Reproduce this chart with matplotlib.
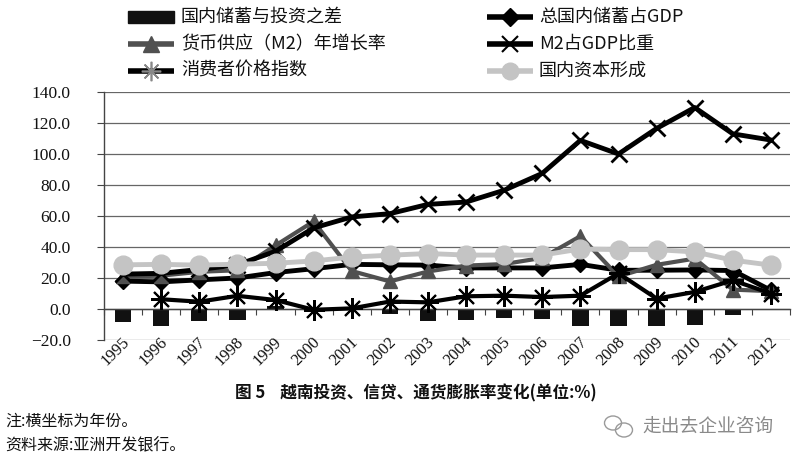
import matplotlib
matplotlib.use('Agg')
import matplotlib.pyplot as plt
import numpy as np
from matplotlib.lines import Line2D
from matplotlib.patches import Rectangle, Ellipse
import matplotlib.transforms as mtransforms
from matplotlib.ticker import FuncFormatter

# ---------------- data ----------------
years = [str(y) for y in range(1995, 2013)]
gap = [-8.6, -10.8, -7.5, -7.3, 2.0, 0.0, 0.0, -3.5, -7.7, -6.9, -5.6, -6.2,
       -11.2, -11.2, -11.2, -10.1, -3.7, 0.0]
savings_gdp = [18.0, 17.5, 18.8, 20.0, 23.5, 26.0, 28.8, 28.5, 28.3, 26.5,
               26.5, 26.5, 28.8, 25.0, 25.0, 25.2, 24.8, 12.0]
m2_growth = [21.0, 21.5, 24.0, 25.0, 41.0, 56.5, 24.5, 17.8, 24.2, 28.0,
             29.0, 33.0, 47.0, 21.0, 28.5, 32.5, 12.5, 11.5]
m2_gdp = [22.5, 23.0, 25.5, 28.5, 37.2, 52.3, 59.4, 61.5, 67.5, 69.0,
          76.6, 87.5, 108.8, 100.0, 116.5, 130.0, 113.0, 109.0]
cpi = [np.nan, 6.3, 4.7, 8.5, 5.8, -0.5, 0.4, 4.8, 4.3, 8.2,
       8.6, 7.7, 8.6, 23.0, 6.7, 11.0, 18.5, 10.0]
capital = [28.5, 28.8, 28.3, 28.9, 29.5, 31.0, 33.5, 34.7, 35.8, 34.8,
           34.8, 34.8, 38.7, 38.3, 38.3, 36.8, 31.5, 28.3]

labels = ['国内储蓄与投资之差', '总国内储蓄占GDP', '货币供应（M2）年增长率',
          'M2占GDP比重', '消费者价格指数', '国内资本形成']
caption = '图 5    越南投资、信贷、通货膨胀率变化(单位:%)'
note1 = '注:横坐标为年份。'
note2 = '资料来源:亚洲开发银行。'
watermark = '走出去企业咨询'

# ---------------- styles ----------------
CJK = ['Noto Sans CJK SC', 'DejaVu Sans']
SERIF = ['Liberation Serif', 'DejaVu Serif']
plt.rcParams['font.family'] = SERIF
plt.rcParams['axes.unicode_minus'] = True

W, H = 799, 462
fig = plt.figure(figsize=(W / 100, H / 100), dpi=100)
fig.patch.set_facecolor('white')


def fx(x):
    return x / W


def fy(y):
    return 1 - y / H


ax = fig.add_axes([fx(104), fy(340), fx(790) - fx(104), fy(92) - fy(340)])
x = np.arange(len(years))

C_BAR = '#111111'
C_M2G = '#505050'
C_CAP = '#c4c4c4'

ax.bar(x, gap, width=0.43, color=C_BAR, zorder=2)
ax.plot(x, savings_gdp, color='black', lw=3.5, marker='D', ms=8, zorder=3)
ax.plot(x, m2_growth, color=C_M2G, lw=3, marker='^', ms=10, zorder=3)
ax.plot(x, m2_gdp, color='black', lw=3.5, marker='x', ms=12, mew=2, zorder=3)
ax.plot(x, cpi, color='black', lw=3, marker=(8, 2, 0), ms=15, mew=1.5, zorder=3)
ax.plot(x, capital, color=C_CAP, lw=3.5, marker='o', ms=13.5, zorder=4)

ax.set_xlim(-0.5, len(years) - 0.5)
ax.set_ylim(-20, 140)
ax.set_yticks(np.arange(-20, 141, 20))
ax.yaxis.set_major_formatter(FuncFormatter(lambda v, p: f'{v:.1f}'.replace('-', '\u2212')))
ax.yaxis.grid(True, color='#666666', lw=0.9)
ax.set_axisbelow(True)

for s in ['top', 'right']:
    ax.spines[s].set_visible(False)
ax.spines['left'].set_color('#444444')
ax.spines['left'].set_linewidth(1.0)
ax.spines['bottom'].set_position(('data', 0))
ax.spines['bottom'].set_color('#444444')
ax.spines['bottom'].set_linewidth(1.0)

ax.tick_params(axis='y', length=5, width=0.8, color='#444444', pad=19,
               labelsize=12.5, labelcolor='#111111')
ax.set_xticks(x)
ax.set_xticks(np.arange(-0.5, len(years), 1), minor=True)
ax.tick_params(axis='x', which='major', length=0, pad=22, labelsize=12,
               labelcolor='#111111')
ax.tick_params(axis='x', which='minor', length=4, width=0.8, color='#444444',
               direction='out')
ax.set_xticklabels(years, rotation=45, ha='right', va='center',
                   rotation_mode='anchor')
off = mtransforms.ScaledTranslation(4 / 100, 0, fig.dpi_scale_trans)
for lab in ax.get_xticklabels():
    lab.set_transform(lab.get_transform() + off)

# ---------------- legend (manual) ----------------
rows = [17, 44, 71]
cols = [(128, 174, 181), (487, 533, 539)]
entries = [
    (0, 0, 'bar'), (1, 0, 'sav'),
    (0, 1, 'm2g'), (1, 1, 'm2gdp'),
    (0, 2, 'cpi'), (1, 2, 'cap'),
]
lab_map = {'bar': labels[0], 'sav': labels[1], 'm2g': labels[2],
           'm2gdp': labels[3], 'cpi': labels[4], 'cap': labels[5]}
for c, r, kind in entries:
    x0, x1, tx = cols[c]
    yy = rows[r]
    xm = (x0 + x1) / 2
    if kind == 'bar':
        fig.add_artist(Rectangle((fx(x0), fy(yy + 6)), fx(x1) - fx(x0), 12 / H,
                                 transform=fig.transFigure, color=C_BAR))
    else:
        style = {
            'sav': dict(color='black', lw=4, marker='D', ms=9),
            'm2g': dict(color=C_M2G, lw=4, marker='^', ms=11),
            'm2gdp': dict(color='black', lw=4, marker='x', ms=12, mew=1.5),
            'cpi': dict(color='black', lw=4, marker=(8, 2, 0), ms=14, mew=1.2,
                        mec='#888888'),
            'cap': dict(color=C_CAP, lw=4, marker='o', ms=12),
        }[kind]
        mk = {k: v for k, v in style.items() if k in ('marker', 'ms', 'mew', 'mec')}
        fig.add_artist(Line2D([fx(x0), fx(x1)], [fy(yy), fy(yy)],
                              transform=fig.transFigure, color=style['color'],
                              lw=style['lw'], solid_capstyle='butt'))
        fig.add_artist(Line2D([fx(xm)], [fy(yy)], transform=fig.transFigure,
                              color=style['color'], ls='none', **mk))
    fig.text(fx(tx), fy(yy), lab_map[kind], family=CJK, fontsize=13,
             va='center', ha='left', color='#111111')

# ---------------- caption & notes ----------------
fig.text(fx(416), fy(393), caption, family=CJK, fontsize=12, fontweight='bold',
         ha='center', va='center', color='#111111')
fig.text(fx(5), fy(421), note1, family=CJK, fontsize=11.5, ha='left',
         va='center', color='#111111')
fig.text(fx(5), fy(446), note2, family=CJK, fontsize=11.5, ha='left',
         va='center', color='#111111')

# watermark
fig.text(fx(642), fy(426), watermark, family=CJK, fontsize=13.5, ha='left',
         va='center', color='#8a8a8a')
fig.add_artist(Ellipse((fx(613), fy(423)), 17 / W, 14 / H, transform=fig.transFigure,
                       fill=False, ec='#9a9a9a', lw=1.0))
fig.add_artist(Ellipse((fx(624), fy(430)), 17 / W, 14 / H, transform=fig.transFigure,
                       fill=False, ec='#9a9a9a', lw=1.0))

fig.savefig('out.png', dpi=100, facecolor='white')
